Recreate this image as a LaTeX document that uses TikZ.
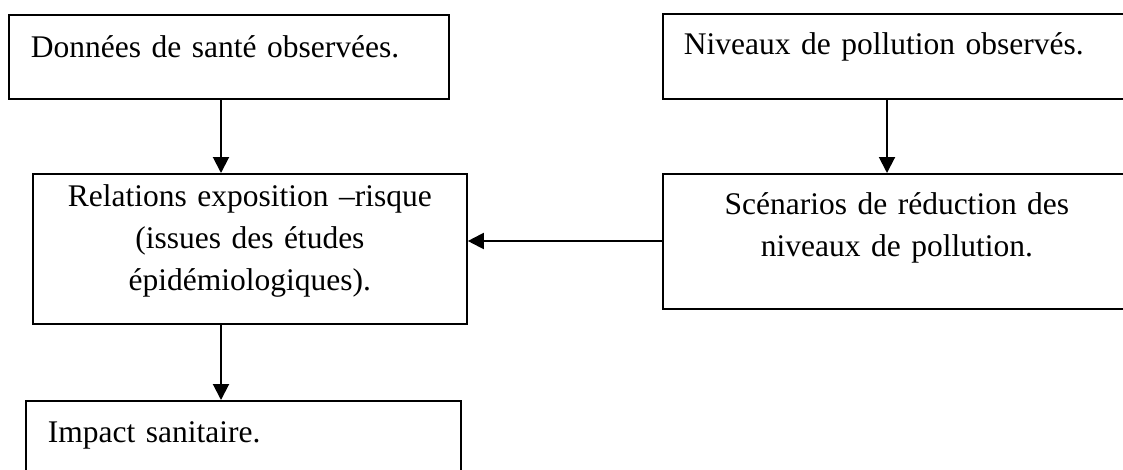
\documentclass[tikz,border=0pt]{standalone}
\usepackage{fontspec}
\setmainfont{Liberation Serif}
\usetikzlibrary{arrows.meta}
\begin{document}
\begin{tikzpicture}[x=1pt,y=-1pt,
  box/.style={draw, line width=1.8pt, inner ysep=0pt, font=\fontsize{31.5}{42}\selectfont},
  arr/.style={line width=2pt, -{Triangle[length=16pt,width=16pt]}}]
\clip (0,0) rectangle (1123,469);
\useasboundingbox (0,0) rectangle (1123,469);
\node[box, anchor=north west, inner xsep=22pt, text width=396pt, align=left,
      text height=43pt, text depth=41pt] (b1) at (8,14) {Données de santé observées.};
\node[box, anchor=north west, inner xsep=21pt, text width=436pt, align=left,
      text height=41pt, text depth=44pt] (b2) at (662,13) {Niveaux de pollution observés.};
\node[box, anchor=north west, inner xsep=10pt, text width=414pt, align=center,
      text height=33pt, text depth=117pt] (b3) at (32,173) {Relations exposition –risque\\(issues des études\\épidémiologiques).};
\node[box, anchor=north west, inner xsep=10pt, text width=448pt, align=center,
      text height=41pt, text depth=94pt] (b4) at (662,173) {Scénarios de réduction des\\niveaux de pollution.};
\node[box, anchor=north west, inner xsep=22pt, text width=391pt, align=left,
      text height=42pt, text depth=50pt] (b5) at (25,400) {Impact sanitaire.};
\coordinate (xa) at (221,0);
\coordinate (xb) at (887,0);
\coordinate (yh) at (0,241);
\draw[arr] (xa |- b1.south) -- (xa |- b3.north);
\draw[arr] (xb |- b2.south) -- (xb |- b4.north);
\draw[arr] (b4.west |- yh) -- (b3.east |- yh);
\draw[arr] (xa |- b3.south) -- (xa |- b5.north);
\end{tikzpicture}
\end{document}
